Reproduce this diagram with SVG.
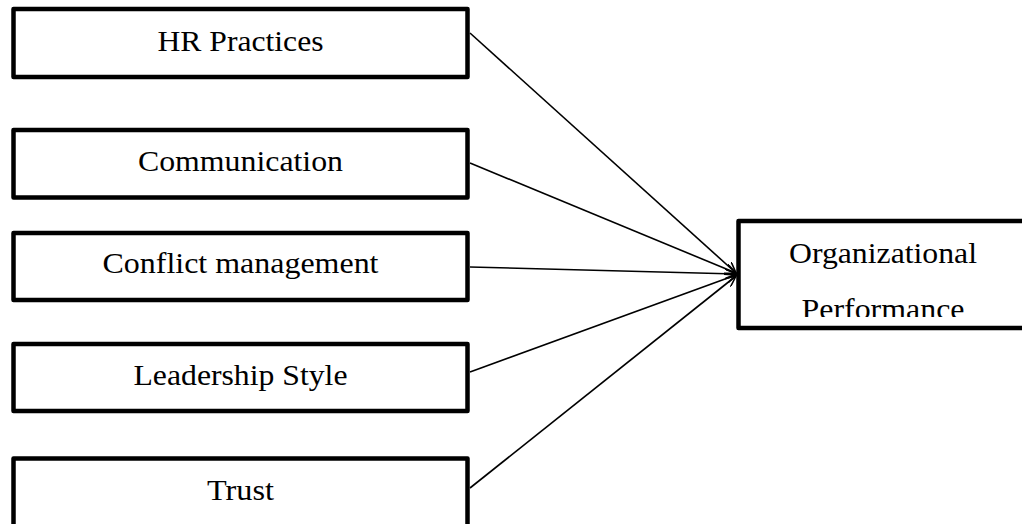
<svg xmlns="http://www.w3.org/2000/svg" width="1022" height="524" viewBox="0 0 1022 524">
<style>
.box{fill:#fff;stroke:#000;stroke-width:4.5;stroke-linejoin:round}
.lbl{font-family:"Liberation Serif","Times New Roman",serif;font-size:30px;fill:#000;text-anchor:middle}
.conn{stroke:#000;stroke-width:1.6;fill:none;marker-end:url(#arr)}
</style>
<defs>
<marker id="arr" viewBox="0 0 12 10" refX="11" refY="5" markerWidth="12" markerHeight="10" markerUnits="userSpaceOnUse" orient="auto">
<path d="M0,0 L11,5 L0,10" fill="none" stroke="#000" stroke-width="1.6"/>
</marker>
<clipPath id="clipOP"><rect x="741" y="224" width="290" height="93"/></clipPath>
</defs>
<rect width="1022" height="524" fill="#fff"/>
<g id="connectors">
<line class="conn" x1="470" y1="33" x2="736" y2="273"/>
<line class="conn" x1="470" y1="163" x2="736" y2="273"/>
<line class="conn" x1="470" y1="267" x2="736" y2="274"/>
<line class="conn" x1="470" y1="372" x2="736" y2="275"/>
<line class="conn" x1="470" y1="488" x2="736" y2="276"/>
</g>
<g id="hr">
<rect class="box" x="13.5" y="9" width="454" height="68"/>
<text class="lbl" x="240.5" y="51" textLength="166" lengthAdjust="spacingAndGlyphs">HR Practices</text>
</g>
<g id="communication">
<rect class="box" x="13.5" y="130" width="454" height="67.5"/>
<text class="lbl" x="240.5" y="171" textLength="205" lengthAdjust="spacingAndGlyphs">Communication</text>
</g>
<g id="conflict">
<rect class="box" x="13.5" y="233" width="454" height="67"/>
<text class="lbl" x="240.5" y="273" textLength="276" lengthAdjust="spacingAndGlyphs">Conflict management</text>
</g>
<g id="leadership">
<rect class="box" x="13.5" y="344" width="454" height="67"/>
<text class="lbl" x="240.5" y="385" textLength="214" lengthAdjust="spacingAndGlyphs">Leadership Style</text>
</g>
<g id="trust">
<rect class="box" x="13.5" y="458.5" width="454" height="70"/>
<text class="lbl" x="240.5" y="500" textLength="67" lengthAdjust="spacingAndGlyphs">Trust</text>
</g>
<g id="performance">
<rect class="box" x="738.5" y="221" width="295" height="107"/>
<g clip-path="url(#clipOP)">
<text class="lbl" x="883" y="263" textLength="188" lengthAdjust="spacingAndGlyphs">Organizational</text>
<text class="lbl" x="883" y="319" textLength="163" lengthAdjust="spacingAndGlyphs">Performance</text>
</g>
</g>
</svg>
